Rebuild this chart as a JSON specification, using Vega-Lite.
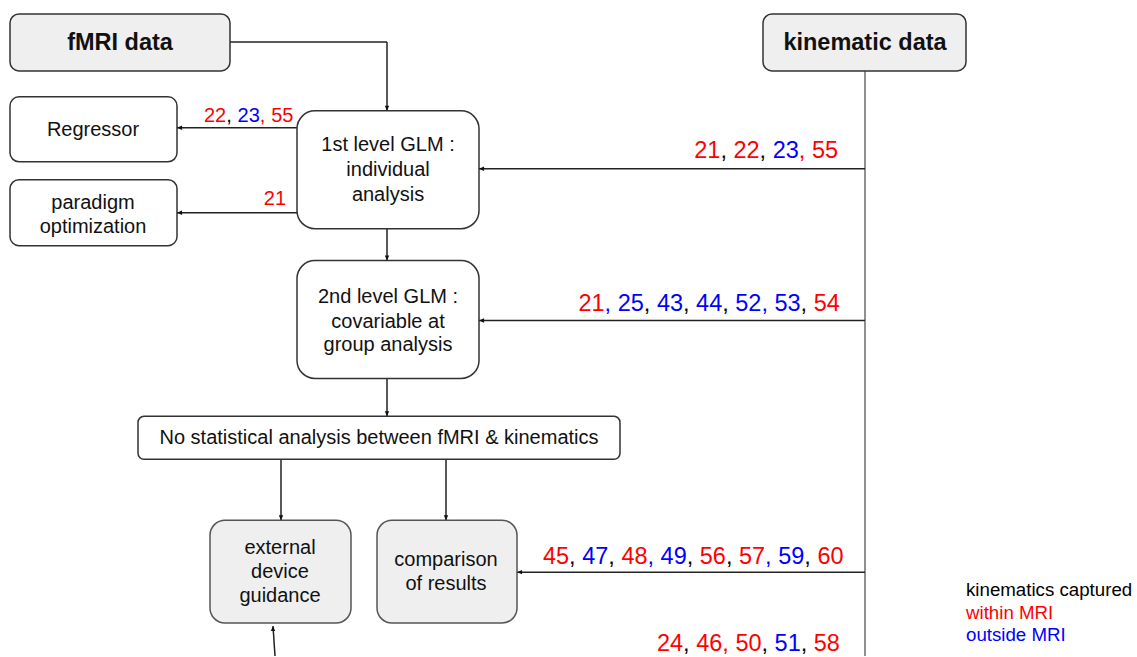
{
  "$schema": "https://vega.github.io/schema/vega-lite/v6.json",
  "width": 1137,
  "height": 657,
  "autosize": {"type": "fit", "contains": "padding"},
  "padding": 0,
  "background": "white",
  "config": {"view": {"stroke": null}, "text": {"font": "Liberation Sans"}},
  "datasets": {
    "boxes": [
      {"id": "fMRI data", "role": "source", "x": 10, "x2": 230, "y": 14, "y2": 71},
      {"id": "kinematic data", "role": "source", "x": 763, "x2": 966, "y": 14, "y2": 71},
      {"id": "Regressor", "role": "output", "x": 10, "x2": 177, "y": 97, "y2": 162},
      {"id": "paradigm optimization", "role": "output", "x": 10, "x2": 177, "y": 180, "y2": 246},
      {"id": "1st level GLM", "role": "glm", "x": 297, "x2": 479, "y": 111, "y2": 229},
      {"id": "2nd level GLM", "role": "glm", "x": 297, "x2": 479, "y": 261, "y2": 379},
      {"id": "No statistical analysis", "role": "summary", "x": 138, "x2": 620, "y": 417, "y2": 460},
      {"id": "external device guidance", "role": "application", "x": 210, "x2": 351, "y": 521, "y2": 624},
      {"id": "comparison of results", "role": "application", "x": 377, "x2": 517, "y": 521, "y2": 624}
    ],
    "labels": [
      {"text": "fMRI data", "role": "source", "x": 120, "y": 43},
      {"text": "kinematic data", "role": "source", "x": 865, "y": 43},
      {"text": "Regressor", "role": "output", "x": 93, "y": 130},
      {"text": "paradigm", "role": "output", "x": 93, "y": 203},
      {"text": "optimization", "role": "output", "x": 93, "y": 227},
      {"text": "1st level GLM :", "role": "glm", "x": 388, "y": 145},
      {"text": "individual", "role": "glm", "x": 388, "y": 170},
      {"text": "analysis", "role": "glm", "x": 388, "y": 195},
      {"text": "2nd level GLM :", "role": "glm", "x": 388, "y": 297},
      {"text": "covariable at", "role": "glm", "x": 388, "y": 322},
      {"text": "group analysis", "role": "glm", "x": 388, "y": 346},
      {"text": "No statistical analysis between fMRI & kinematics", "role": "summary", "x": 379, "y": 439},
      {"text": "external", "role": "application", "x": 280, "y": 549},
      {"text": "device", "role": "application", "x": 280, "y": 573},
      {"text": "guidance", "role": "application", "x": 280, "y": 597},
      {"text": "comparison", "role": "application", "x": 446, "y": 561},
      {"text": "of results", "role": "application", "x": 446, "y": 585}
    ],
    "links": [
      {"kind": "flow", "x": 230, "y": 42, "x2": 387, "y2": 42},
      {"kind": "flow", "x": 387, "y": 42, "x2": 387, "y2": 111},
      {"kind": "flow", "x": 297, "y": 128, "x2": 177, "y2": 128},
      {"kind": "flow", "x": 297, "y": 213, "x2": 177, "y2": 213},
      {"kind": "flow", "x": 387, "y": 229, "x2": 387, "y2": 261},
      {"kind": "flow", "x": 387, "y": 379, "x2": 387, "y2": 417},
      {"kind": "flow", "x": 281, "y": 460, "x2": 281, "y2": 521},
      {"kind": "flow", "x": 446, "y": 460, "x2": 446, "y2": 521},
      {"kind": "trunk", "x": 865, "y": 71, "x2": 865, "y2": 657},
      {"kind": "flow", "x": 865, "y": 169, "x2": 479, "y2": 169},
      {"kind": "flow", "x": 865, "y": 321, "x2": 479, "y2": 321},
      {"kind": "flow", "x": 865, "y": 573, "x2": 517, "y2": 573},
      {"kind": "flow", "x": 275, "y": 657, "x2": 273, "y2": 627}
    ],
    "heads": [
      {"x": 387, "y": 111, "dir": "down"},
      {"x": 177, "y": 128, "dir": "left"},
      {"x": 177, "y": 213, "dir": "left"},
      {"x": 387, "y": 261, "dir": "down"},
      {"x": 387, "y": 417, "dir": "down"},
      {"x": 281, "y": 521, "dir": "down"},
      {"x": 446, "y": 521, "dir": "down"},
      {"x": 479, "y": 169, "dir": "left"},
      {"x": 479, "y": 321, "dir": "left"},
      {"x": 517, "y": 573, "dir": "left"},
      {"x": 273, "y": 627, "dir": "up"}
    ],
    "tokens": [
      {"label": "A", "t": "21", "cat": "within MRI", "x": 694.3, "y": 158},
      {"label": "A", "t": ",", "cat": "separator", "x": 720.4, "y": 158},
      {"label": "A", "t": "22", "cat": "within MRI", "x": 733.5, "y": 158},
      {"label": "A", "t": ",", "cat": "separator", "x": 759.6, "y": 158},
      {"label": "A", "t": "23", "cat": "outside MRI", "x": 772.7, "y": 158},
      {"label": "A", "t": ",", "cat": "within MRI", "x": 798.8, "y": 158},
      {"label": "A", "t": "55", "cat": "within MRI", "x": 811.9, "y": 158},

      {"label": "B", "t": "21", "cat": "within MRI", "x": 578.5, "y": 311},
      {"label": "B", "t": ",", "cat": "outside MRI", "x": 604.6, "y": 311},
      {"label": "B", "t": "25", "cat": "outside MRI", "x": 617.7, "y": 311},
      {"label": "B", "t": ",", "cat": "separator", "x": 643.8, "y": 311},
      {"label": "B", "t": "43", "cat": "outside MRI", "x": 656.9, "y": 311},
      {"label": "B", "t": ",", "cat": "separator", "x": 683.0, "y": 311},
      {"label": "B", "t": "44", "cat": "outside MRI", "x": 696.1, "y": 311},
      {"label": "B", "t": ",", "cat": "separator", "x": 722.2, "y": 311},
      {"label": "B", "t": "52", "cat": "outside MRI", "x": 735.3, "y": 311},
      {"label": "B", "t": ",", "cat": "outside MRI", "x": 761.4, "y": 311},
      {"label": "B", "t": "53", "cat": "outside MRI", "x": 774.5, "y": 311},
      {"label": "B", "t": ",", "cat": "separator", "x": 800.6, "y": 311},
      {"label": "B", "t": "54", "cat": "within MRI", "x": 813.7, "y": 311},

      {"label": "C", "t": "45", "cat": "within MRI", "x": 543, "y": 565},
      {"label": "C", "t": ",", "cat": "separator", "x": 569.1, "y": 565},
      {"label": "C", "t": "47", "cat": "outside MRI", "x": 582.2, "y": 565},
      {"label": "C", "t": ",", "cat": "separator", "x": 608.3, "y": 565},
      {"label": "C", "t": "48", "cat": "within MRI", "x": 621.4, "y": 565},
      {"label": "C", "t": ",", "cat": "outside MRI", "x": 647.5, "y": 565},
      {"label": "C", "t": "49", "cat": "outside MRI", "x": 660.6, "y": 565},
      {"label": "C", "t": ",", "cat": "separator", "x": 686.7, "y": 565},
      {"label": "C", "t": "56", "cat": "within MRI", "x": 699.8, "y": 565},
      {"label": "C", "t": ",", "cat": "separator", "x": 725.9, "y": 565},
      {"label": "C", "t": "57", "cat": "within MRI", "x": 739.0, "y": 565},
      {"label": "C", "t": ",", "cat": "outside MRI", "x": 765.1, "y": 565},
      {"label": "C", "t": "59", "cat": "outside MRI", "x": 778.2, "y": 565},
      {"label": "C", "t": ",", "cat": "separator", "x": 804.3, "y": 565},
      {"label": "C", "t": "60", "cat": "within MRI", "x": 817.4, "y": 565},

      {"label": "D", "t": "24", "cat": "within MRI", "x": 657, "y": 652},
      {"label": "D", "t": ",", "cat": "separator", "x": 683.1, "y": 652},
      {"label": "D", "t": "46", "cat": "within MRI", "x": 696.2, "y": 652},
      {"label": "D", "t": ",", "cat": "within MRI", "x": 722.3, "y": 652},
      {"label": "D", "t": "50", "cat": "within MRI", "x": 735.4, "y": 652},
      {"label": "D", "t": ",", "cat": "separator", "x": 761.5, "y": 652},
      {"label": "D", "t": "51", "cat": "outside MRI", "x": 774.6, "y": 652},
      {"label": "D", "t": ",", "cat": "separator", "x": 800.7, "y": 652},
      {"label": "D", "t": "58", "cat": "within MRI", "x": 813.8, "y": 652},

      {"label": "E", "t": "22", "cat": "within MRI", "x": 204, "y": 122},
      {"label": "E", "t": ",", "cat": "separator", "x": 226.2, "y": 122},
      {"label": "E", "t": "23", "cat": "outside MRI", "x": 237.6, "y": 122},
      {"label": "E", "t": ",", "cat": "within MRI", "x": 259.8, "y": 122},
      {"label": "E", "t": "55", "cat": "within MRI", "x": 271.2, "y": 122},

      {"label": "F", "t": "21", "cat": "within MRI", "x": 263.8, "y": 205}
    ],
    "legend": [
      {"t": "kinematics captured", "cat": "note", "x": 966, "y": 597},
      {"t": "within MRI", "cat": "within MRI", "x": 966, "y": 620},
      {"t": "outside MRI", "cat": "outside MRI", "x": 966, "y": 642}
    ]
  },
  "layer": [
    {
      "data": {"name": "links"},
      "mark": {"type": "rule", "strokeWidth": 1.5},
      "encoding": {
        "x": {"field": "x", "type": "quantitative", "scale": {"domain": [0, 1137], "nice": false, "zero": false}, "axis": null},
        "y": {"field": "y", "type": "quantitative", "scale": {"domain": [0, 657], "nice": false, "zero": false, "reverse": true}, "axis": null},
        "x2": {"field": "x2"},
        "y2": {"field": "y2"},
        "stroke": {"field": "kind", "type": "nominal", "scale": {"domain": ["flow", "trunk"], "range": ["#222222", "#6b6b6b"]}, "legend": null}
      }
    },
    {
      "data": {"name": "boxes"},
      "transform": [{"filter": "datum.role === 'source' || datum.role === 'output'"}],
      "mark": {"type": "rect", "cornerRadius": 9, "stroke": "#333333", "strokeWidth": 1.5},
      "encoding": {
        "x": {"field": "x", "type": "quantitative"},
        "x2": {"field": "x2"},
        "y": {"field": "y", "type": "quantitative"},
        "y2": {"field": "y2"},
        "fill": {"field": "role", "type": "nominal", "scale": {"domain": ["source", "output", "glm", "summary", "application"], "range": ["#efefef", "#ffffff", "#ffffff", "#ffffff", "#efefef"]}, "legend": null}
      }
    },
    {
      "data": {"name": "boxes"},
      "transform": [{"filter": "datum.role === 'glm'"}],
      "mark": {"type": "rect", "cornerRadius": 18, "stroke": "#333333", "strokeWidth": 1.5},
      "encoding": {
        "x": {"field": "x", "type": "quantitative"},
        "x2": {"field": "x2"},
        "y": {"field": "y", "type": "quantitative"},
        "y2": {"field": "y2"},
        "fill": {"field": "role", "type": "nominal", "legend": null}
      }
    },
    {
      "data": {"name": "boxes"},
      "transform": [{"filter": "datum.role === 'summary'"}],
      "mark": {"type": "rect", "cornerRadius": 6, "stroke": "#333333", "strokeWidth": 1.5},
      "encoding": {
        "x": {"field": "x", "type": "quantitative"},
        "x2": {"field": "x2"},
        "y": {"field": "y", "type": "quantitative"},
        "y2": {"field": "y2"},
        "fill": {"field": "role", "type": "nominal", "legend": null}
      }
    },
    {
      "data": {"name": "boxes"},
      "transform": [{"filter": "datum.role === 'application'"}],
      "mark": {"type": "rect", "cornerRadius": 15, "stroke": "#555555", "strokeWidth": 1.5},
      "encoding": {
        "x": {"field": "x", "type": "quantitative"},
        "x2": {"field": "x2"},
        "y": {"field": "y", "type": "quantitative"},
        "y2": {"field": "y2"},
        "fill": {"field": "role", "type": "nominal", "legend": null}
      }
    },
    {
      "data": {"name": "heads"},
      "mark": {"type": "point", "filled": true, "size": 40, "opacity": 1, "color": "#111111"},
      "encoding": {
        "x": {"field": "x", "type": "quantitative"},
        "y": {"field": "y", "type": "quantitative"},
        "shape": {"field": "dir", "type": "nominal", "scale": {"domain": ["left", "down", "up"], "range": ["M0,0L1.6,-0.7L1.6,0.7Z", "M0,0L-0.7,-1.6L0.7,-1.6Z", "M0,0L-0.7,1.6L0.7,1.6Z"]}, "legend": null}
      }
    },
    {
      "data": {"name": "labels"},
      "transform": [{"filter": "datum.role !== 'source'"}],
      "mark": {"type": "text", "fontSize": 20, "align": "center", "baseline": "middle", "color": "#111111"},
      "encoding": {
        "x": {"field": "x", "type": "quantitative"},
        "y": {"field": "y", "type": "quantitative"},
        "text": {"field": "text"}
      }
    },
    {
      "data": {"name": "labels"},
      "transform": [{"filter": "datum.role === 'source'"}],
      "mark": {"type": "text", "fontSize": 23.5, "fontWeight": "bold", "align": "center", "baseline": "middle", "color": "#111111"},
      "encoding": {
        "x": {"field": "x", "type": "quantitative"},
        "y": {"field": "y", "type": "quantitative"},
        "text": {"field": "text"}
      }
    },
    {
      "data": {"name": "tokens"},
      "transform": [{"filter": "datum.label !== 'E' && datum.label !== 'F'"}],
      "mark": {"type": "text", "fontSize": 23.5, "align": "left", "baseline": "alphabetic"},
      "encoding": {
        "x": {"field": "x", "type": "quantitative"},
        "y": {"field": "y", "type": "quantitative"},
        "text": {"field": "t"},
        "color": {"field": "cat", "type": "nominal", "scale": {"domain": ["within MRI", "outside MRI", "separator", "note"], "range": ["#ff0000", "#0000ff", "#000000", "#000000"]}, "legend": null}
      }
    },
    {
      "data": {"name": "tokens"},
      "transform": [{"filter": "datum.label === 'E' || datum.label === 'F'"}],
      "mark": {"type": "text", "fontSize": 20, "align": "left", "baseline": "alphabetic"},
      "encoding": {
        "x": {"field": "x", "type": "quantitative"},
        "y": {"field": "y", "type": "quantitative"},
        "text": {"field": "t"},
        "color": {"field": "cat", "type": "nominal", "legend": null}
      }
    },
    {
      "data": {"name": "legend"},
      "mark": {"type": "text", "fontSize": 18.7, "align": "left", "baseline": "alphabetic"},
      "encoding": {
        "x": {"field": "x", "type": "quantitative"},
        "y": {"field": "y", "type": "quantitative"},
        "text": {"field": "t"},
        "color": {"field": "cat", "type": "nominal", "legend": null}
      }
    }
  ]
}
